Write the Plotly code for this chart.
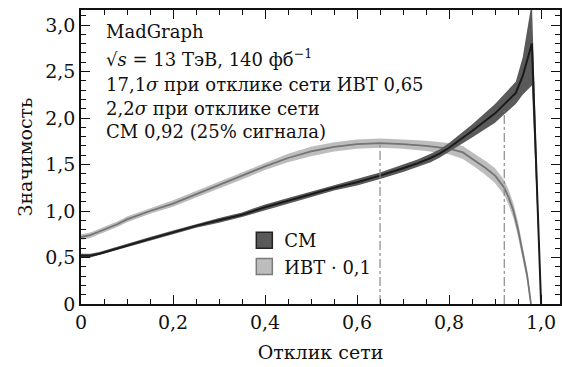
import plotly.graph_objects as go

# ---------------- data ----------------
sm_x = [0.0, 0.02, 0.04, 0.06, 0.08, 0.10, 0.15, 0.20, 0.25, 0.30, 0.35, 0.40, 0.45,
        0.50, 0.55, 0.60, 0.65, 0.70, 0.73, 0.76, 0.78, 0.80, 0.85, 0.90, 0.92, 0.945,
        0.96, 0.98, 1.0]
sm_y = [0.52, 0.52, 0.54, 0.57, 0.60, 0.63, 0.70, 0.77, 0.84, 0.90, 0.96, 1.04, 1.11,
        1.18, 1.25, 1.31, 1.38, 1.46, 1.51, 1.57, 1.62, 1.68, 1.86, 2.05, 2.15, 2.27,
        2.45, 2.80, 0.0]
sm_err = [0.02, 0.02, 0.02, 0.02, 0.02, 0.02, 0.02, 0.02, 0.02, 0.025, 0.025, 0.03, 0.03,
          0.03, 0.03, 0.035, 0.035, 0.04, 0.04, 0.045, 0.045, 0.05, 0.07, 0.10, 0.11, 0.12,
          0.2, 0.45, 0.0]

ivt_x = [0.0, 0.01, 0.02, 0.04, 0.06, 0.08, 0.10, 0.15, 0.20, 0.25, 0.30, 0.35, 0.40, 0.45,
         0.50, 0.55, 0.60, 0.65, 0.70, 0.75, 0.80, 0.83, 0.86, 0.88, 0.90, 0.92, 0.93, 0.94,
         0.95, 0.96, 0.97, 0.978]
ivt_y = [0.72, 0.73, 0.74, 0.78, 0.82, 0.86, 0.91, 1.00, 1.08, 1.18, 1.28, 1.38, 1.48, 1.57,
         1.64, 1.69, 1.72, 1.73, 1.72, 1.70, 1.67, 1.63, 1.53, 1.46, 1.38, 1.25, 1.14, 1.00,
         0.80, 0.55, 0.30, 0.0]
ivt_err = [0.03, 0.03, 0.03, 0.03, 0.03, 0.03, 0.03, 0.03, 0.035, 0.035, 0.035, 0.04, 0.04, 0.045,
           0.05, 0.05, 0.05, 0.05, 0.05, 0.055, 0.06, 0.07, 0.07, 0.075, 0.08, 0.08, 0.08, 0.08,
           0.08, 0.07, 0.06, 0.04]

cut_ivt = 0.65
cut_ivt_sig = 1.73
cut_sm = 0.92
cut_sm_sig = 2.07

x_tickvals = [0, 0.2, 0.4, 0.6, 0.8, 1.0]
x_ticktext = ["0", "0,2", "0,4", "0,6", "0,8", "1,0"]
y_tickvals = [0, 0.5, 1.0, 1.5, 2.0, 2.5, 3.0]
y_ticktext = ["0", "0,5", "1,0", "1,5", "2,0", "2,5", "3,0"]

labels_text = [
    "MadGraph",
    "√<i>s</i> = 13 ТэВ, 140 фб<sup>−1</sup>",
    "17,1<i>σ</i> при отклике сети ИВТ 0,65",
    "2,2<i>σ</i> при отклике сети",
    "СМ 0,92 (25% сигнала)",
]
legend_names = ["СМ", "ИВТ · 0,1"]

# ---------------- styling ----------------
FONT = "DejaVu Serif, Liberation Serif, serif"
SM_LINE = "#1a1a1a"
SM_BAND = "#5a5a5a"
IVT_LINE = "#747474"
IVT_BAND = "#bdbdbd"

fig = go.Figure()


def band(xs, ys, es, color):
    up = [y + e for y, e in zip(ys, es)]
    lo = [y - e for y, e in zip(ys, es)]
    return go.Scatter(x=list(xs) + list(xs)[::-1], y=up + lo[::-1], fill="toself",
                      fillcolor=color, line=dict(width=0), mode="lines",
                      showlegend=False, hoverinfo="skip")


fig.add_trace(band(ivt_x, ivt_y, ivt_err, IVT_BAND))
fig.add_trace(go.Scatter(x=ivt_x, y=ivt_y, mode="lines", line=dict(color=IVT_LINE, width=1.8),
                         showlegend=False))
fig.add_trace(band(sm_x, sm_y, sm_err, SM_BAND))
fig.add_trace(go.Scatter(x=sm_x, y=sm_y, mode="lines", line=dict(color=SM_LINE, width=2),
                         showlegend=False))

# vertical dash-dot markers
fig.add_trace(go.Scatter(x=[cut_ivt, cut_ivt], y=[0, cut_ivt_sig], mode="lines",
                         line=dict(color="#8a8a8a", width=1.2, dash="dashdot"), showlegend=False))
fig.add_trace(go.Scatter(x=[cut_sm, cut_sm], y=[0, cut_sm_sig], mode="lines",
                         line=dict(color="#8a8a8a", width=1.2, dash="dashdot"), showlegend=False))

# legend entries
fig.add_trace(go.Scatter(x=[None], y=[None], mode="markers", name=legend_names[0],
                         marker=dict(symbol="square", size=16, color=SM_BAND,
                                     line=dict(color="#222222", width=1.5))))
fig.add_trace(go.Scatter(x=[None], y=[None], mode="markers", name=legend_names[1],
                         marker=dict(symbol="square", size=16, color=IVT_BAND,
                                     line=dict(color="#7a7a7a", width=1.5))))

# text block
L, R, T, B = 81, 0, 10, 63
W, H = 562, 367
pw, ph = W - L - R, H - T - B
y_centers = [32, 58, 85, 108, 131]
for txt, yc in zip(labels_text, y_centers):
    fig.add_annotation(text=txt, xref="paper", yref="paper",
                       x=(104 - L) / pw, y=(H - B - yc) / ph,
                       xanchor="left", yanchor="middle", showarrow=False,
                       font=dict(family=FONT, size=18, color="#111"))

axis_common = dict(showline=True, linecolor="#111", linewidth=1.5, mirror="ticks",
                   ticks="inside", tickcolor="#111", tickwidth=1.2, ticklen=9,
                   showgrid=False, zeroline=False,
                   tickfont=dict(family=FONT, size=19, color="#111"))

fig.update_xaxes(range=[0, pw / 462.0], tickvals=x_tickvals, ticktext=x_ticktext,
                 minor=dict(dtick=0.05, ticks="inside", ticklen=5, tickcolor="#111", tickwidth=1.2),
                 title=dict(text="Отклик сети", font=dict(family=FONT, size=19, color="#111"),
                            standoff=14),
                 **axis_common)
fig.update_yaxes(range=[0, ph / 93.0], tickvals=y_tickvals, ticktext=y_ticktext,
                 minor=dict(dtick=0.1, ticks="inside", ticklen=5, tickcolor="#111", tickwidth=1.2),
                 title=dict(text="Значимость", font=dict(family=FONT, size=19, color="#111"),
                            standoff=8),
                 **axis_common)

fig.update_layout(
    width=W, height=H,
    margin=dict(l=L, r=R, t=T, b=B),
    plot_bgcolor="white", paper_bgcolor="white",
    font=dict(family=FONT, size=19, color="#111"),
    legend=dict(x=(245 - L) / pw, y=(H - B - 222) / ph, xanchor="left", yanchor="top",
                bgcolor="rgba(0,0,0,0)", borderwidth=0,
                font=dict(family=FONT, size=18, color="#111"), tracegroupgap=0),
    showlegend=True,
)

fig.write_html("out.html")
